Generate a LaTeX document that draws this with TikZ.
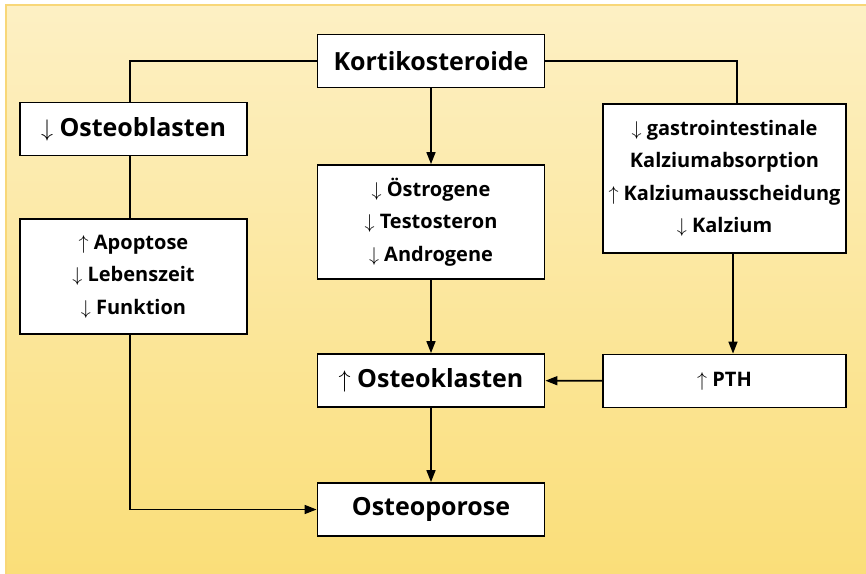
\documentclass[tikz,border=0pt]{standalone}
\usepackage{fontspec}
\setmainfont{Open Sans}
\usetikzlibrary{arrows.meta}
\definecolor{bgtop}{HTML}{FDF0C4}
\definecolor{bgbot}{HTML}{FADE78}
\definecolor{bgedge}{HTML}{F8D778}
\begin{document}
\begin{tikzpicture}
        [x=0.5pt,y=-0.5pt,
        box/.style={draw,fill=white,line width=0.9pt,align=center,inner sep=2pt},
        big/.style={box,font=\bfseries\fontsize{12.5}{15}\selectfont,minimum width=113.5pt,minimum height=26.5pt},
        small/.style={box,font=\bfseries\fontsize{10}{16.2}\selectfont},
        link/.style={line width=0.8pt},
        arr/.style={link,-{Triangle[length=6pt,width=4.5pt]}}]
        \useasboundingbox (0,0) rectangle (866,573);
        %Background
        \shade[top color=bgtop,bottom color=bgbot,draw=bgedge,line width=1pt] (6,5) rectangle (872,579);

        %Middle
        \node[big]  (K) at (431,61)       {Kortikosteroide};
        \node[small,minimum width=113.5pt,minimum height=57pt]
                    (OE) at (431,222)     {$\downarrow$ Östrogene\\$\downarrow$ Testosteron\\$\downarrow$ Androgene};
        \node[big]  (OK) at (431,380.5)   {$\uparrow$ Osteoklasten};
        \node[big]  (OP) at (431,509.5)   {Osteoporose};
        %Left side
        \node[big]  (OB) at (133.5,129)   {$\downarrow$ Osteoblasten};
        \node[small,minimum width=113.5pt,minimum height=57.5pt]
                    (AP) at (133.5,276.5) {$\uparrow$ Apoptose\\$\downarrow$ Lebenszeit\\$\downarrow$ Funktion};
        %Right side
        \node[small,minimum width=121.5pt,minimum height=74.5pt]
                    (CA) at (724.5,178.5) {$\downarrow$ gastrointestinale\\Kalziumabsorption\\$\uparrow$ Kalziumausscheidung\\$\downarrow$ Kalzium};
        \node[small,minimum width=121.5pt,minimum height=26.5pt]
                    (PTH) at (724.5,381)  {$\uparrow$ PTH};

        \draw[link] (K.west) -| ([xshift=-1.75pt]OB.north)
                    ([xshift=-1.75pt]OB.south) -- ([xshift=-1.75pt]AP.north)
                    (K.east) -| ([xshift=6.25pt]CA.north);
        \draw[arr]  ([xshift=-1.75pt]AP.south) |- (OP.west);
        \draw[arr]  ([xshift=4.25pt]CA.south) -- ([xshift=4.25pt]PTH.north);
        \draw[arr]
                (K)     edge    (OE)
                (OE)    edge    (OK)
                (OK)    edge    (OP)
                (PTH)   edge    (OK);
\end{tikzpicture}
\end{document}
